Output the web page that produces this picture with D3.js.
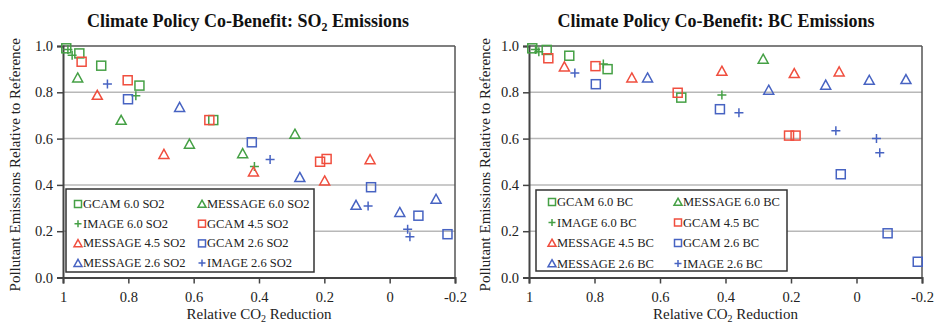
<!DOCTYPE html>
<html><head><meta charset="utf-8">
<script src="https://cdn.jsdelivr.net/npm/d3@7"></script>
<style>body{margin:0;background:#fff;}svg{display:block;font-family:"Liberation Serif","Times New Roman",serif;}</style>
</head><body><svg id="c" width="936" height="325"></svg>
<script>
// ---------- DATA ----------
const xTicks = [1, 0.8, 0.6, 0.4, 0.2, 0, -0.2];
const xTickLabels = ["1", "0.8", "0.6", "0.4", "0.2", "0", "-0.2"];
const yTicks = [0, 0.2, 0.4, 0.6, 0.8, 1.0];
const yTickLabels = ["0.0", "0.2", "0.4", "0.6", "0.8", "1.0"];

// SO2 panel: [relative CO2 reduction, pollutant relative to reference]
const so2_GCAM60    = [[0.99,0.99],[0.95,0.968],[0.883,0.915],[0.766,0.829],[0.54,0.68]];
const so2_IMAGE60   = [[0.985,0.985],[0.972,0.96],[0.777,0.785],[0.414,0.479]];
const so2_MESSAGE60 = [[0.955,0.863],[0.822,0.68],[0.613,0.577],[0.45,0.536],[0.29,0.62]];
const so2_GCAM45    = [[0.943,0.932],[0.802,0.852],[0.552,0.68],[0.213,0.50],[0.193,0.512]];
const so2_MESSAGE45 = [[0.895,0.788],[0.691,0.533],[0.417,0.457],[0.199,0.418],[0.06,0.51]];
const so2_GCAM26    = [[0.801,0.77],[0.422,0.584],[0.057,0.39],[-0.088,0.267],[-0.177,0.187]];
const so2_MESSAGE26 = [[0.643,0.736],[0.275,0.433],[0.103,0.313],[-0.031,0.282],[-0.142,0.339]];
const so2_IMAGE26   = [[0.864,0.836],[0.366,0.51],[0.066,0.309],[-0.055,0.208],[-0.062,0.176]];

// BC panel
const bc_GCAM60    = [[0.99,0.99],[0.946,0.983],[0.877,0.958],[0.76,0.90],[0.535,0.777]];
const bc_IMAGE60   = [[0.98,0.985],[0.97,0.975],[0.773,0.922],[0.411,0.788]];
const bc_MESSAGE60 = [[0.285,0.944]];
const bc_GCAM45    = [[0.941,0.947],[0.797,0.913],[0.546,0.798],[0.206,0.613],[0.186,0.613]];
const bc_MESSAGE45 = [[0.892,0.911],[0.686,0.863],[0.411,0.892],[0.19,0.882],[0.053,0.889]];
const bc_GCAM26    = [[0.796,0.835],[0.417,0.727],[0.048,0.446],[-0.095,0.191],[-0.187,0.068]];
const bc_MESSAGE26 = [[0.638,0.863],[0.268,0.81],[0.094,0.832],[-0.039,0.853],[-0.151,0.856]];
const bc_IMAGE26   = [[0.86,0.883],[0.359,0.712],[0.063,0.634],[-0.061,0.60],[-0.071,0.539]];

const seriesNames = ["GCAM 6.0","MESSAGE 6.0","IMAGE 6.0","GCAM 4.5","MESSAGE 4.5","GCAM 2.6","MESSAGE 2.6","IMAGE 2.6"];
const seriesShapes = ["square","triangle","plus","square","triangle","square","triangle","plus"];
const seriesColors = ["#45a045","#45a045","#45a045","#f04e3e","#f04e3e","#4763c2","#4763c2","#4763c2"];
const so2Data = [so2_GCAM60, so2_MESSAGE60, so2_IMAGE60, so2_GCAM45, so2_MESSAGE45, so2_GCAM26, so2_MESSAGE26, so2_IMAGE26];
const bcData  = [bc_GCAM60, bc_MESSAGE60, bc_IMAGE60, bc_GCAM45, bc_MESSAGE45, bc_GCAM26, bc_MESSAGE26, bc_IMAGE26];

// ---------- DRAW ----------
const svg = d3.select("#c");

function symbol(g, shape, color, size) {
  const s = size;
  if (shape === "square") {
    g.append("rect").attr("x", -s/2).attr("y", -s/2).attr("width", s).attr("height", s)
      .attr("fill", "none").attr("stroke", color).attr("stroke-width", 1.5);
  } else if (shape === "triangle") {
    const h = s * 0.95;
    g.append("path").attr("d", `M0,${-h/2 - 0.5}L${s/2 + 0.5},${h/2}L${-s/2 - 0.5},${h/2}Z`)
      .attr("fill", "none").attr("stroke", color).attr("stroke-width", 1.5).attr("stroke-linejoin", "miter");
  } else {
    g.append("path").attr("d", `M${-s/2},0H${s/2}M0,${-s/2}V${s/2}`)
      .attr("stroke", color).attr("stroke-width", 1.5);
  }
}

function drawPanel(cfg) {
  const x = d3.scaleLinear().domain([1, -0.2]).range([cfg.left, cfg.right]);
  const y = d3.scaleLinear().domain([0, 1]).range([277.5, 46]);
  const g = svg.append("g");

  // gridlines
  g.append("g").selectAll("line").data(yTicks.filter(v => v > 0 && v < 1)).join("line")
    .attr("x1", cfg.left).attr("x2", cfg.right).attr("y1", d => y(d)).attr("y2", d => y(d))
    .attr("stroke", "#b8b8b8").attr("stroke-width", 1.5);

  // frame: top and right
  g.append("line").attr("x1", cfg.left).attr("x2", cfg.right).attr("y1", y(1)).attr("y2", y(1))
    .attr("stroke", "#555").attr("stroke-width", 1.5);
  g.append("line").attr("x1", cfg.right).attr("x2", cfg.right).attr("y1", y(1)).attr("y2", y(0))
    .attr("stroke", "#555").attr("stroke-width", 1.5);

  // axes
  const yAxis = d3.axisLeft(y).tickValues(yTicks).tickFormat((d, i) => yTickLabels[i]).tickSizeOuter(0).tickSize(6).tickPadding(4);
  const ya = g.append("g").attr("transform", `translate(${cfg.left},0)`).call(yAxis);
  const xAxis = d3.axisBottom(x).tickValues(xTicks).tickFormat((d, i) => xTickLabels[i]).tickSizeOuter(0).tickSize(6).tickPadding(8);
  const xa = g.append("g").attr("transform", `translate(0,${y(0)})`).call(xAxis);
  [ya, xa].forEach(a => {
    a.select(".domain").attr("stroke", "#444").attr("stroke-width", 2);
    a.selectAll(".tick line").attr("stroke", "#444").attr("stroke-width", 1.5);
    a.selectAll("text").attr("font-family", "Liberation Serif").attr("font-size", 14.5).attr("fill", "#222");
  });

  // points
  cfg.data.forEach((series, si) => {
    series.forEach(p => {
      const pg = g.append("g").attr("transform", `translate(${x(p[0])},${y(p[1])})`);
      symbol(pg, seriesShapes[si], seriesColors[si], 9);
    });
  });

  // title
  const t = g.append("text").attr("x", cfg.titleX).attr("y", 27).attr("text-anchor", "middle")
    .attr("font-size", 18).attr("font-weight", "bold").attr("fill", "#111");
  t.append("tspan").text("Climate Policy Co-Benefit: " + cfg.titleMain);
  if (cfg.titleSub) {
    t.append("tspan").text(cfg.titleSub).attr("font-size", 12).attr("dy", 4);
    t.append("tspan").text(" Emissions").attr("dy", -4);
  } else {
    t.append("tspan").text(" Emissions");
  }

  // axis labels
  const xl = g.append("text").attr("x", (cfg.left + cfg.right) / 2).attr("y", 319).attr("text-anchor", "middle")
    .attr("font-size", 15).attr("fill", "#222");
  xl.append("tspan").text("Relative CO");
  xl.append("tspan").text("2").attr("font-size", 10).attr("dy", 3);
  xl.append("tspan").text(" Reduction").attr("dy", -3);

  g.append("text").attr("transform", `translate(${cfg.ylabelX},${(y(0) + y(1)) / 2 + 3}) rotate(-90)`)
    .attr("text-anchor", "middle").attr("font-size", 15).attr("fill", "#222")
    .text("Pollutant Emissions Relative to Reference");

  // legend
  const L = cfg.legend;
  g.append("rect").attr("x", L.x).attr("y", L.y).attr("width", L.w).attr("height", L.h)
    .attr("fill", "#fff").attr("stroke", "#333").attr("stroke-width", 1.5);
  const legendOrder = [[0, 1], [2, 3], [4, 5], [6, 7]];
  legendOrder.forEach((row, ri) => {
    row.forEach((si, ci) => {
      const sx = L.x + (ci === 0 ? L.c1 : L.c2);
      const sy = L.y + L.r0 + ri * L.rs;
      const lg = g.append("g").attr("transform", `translate(${sx},${sy - 4})`);
      symbol(lg, seriesShapes[si], seriesColors[si], 7);
      g.append("text").attr("x", sx + 5).attr("y", sy).attr("font-size", 12.5).attr("fill", "#222")
        .text(seriesNames[si] + " " + cfg.suffix);
    });
  });
}

drawPanel({left: 63, right: 455, titleX: 248, titleMain: "SO", titleSub: "2", ylabelX: 20, suffix: "SO2",
  data: so2Data, legend: {x: 66, y: 189, w: 248, h: 83, c1: 12, c2: 136, r0: 19, rs: 19.7}});
drawPanel({left: 529, right: 922, titleX: 716, titleMain: "BC", titleSub: null, ylabelX: 490, suffix: "BC",
  data: bcData, legend: {x: 536, y: 190, w: 251, h: 81, c1: 16, c2: 142, r0: 16, rs: 20.5}});
</script></body></html>
